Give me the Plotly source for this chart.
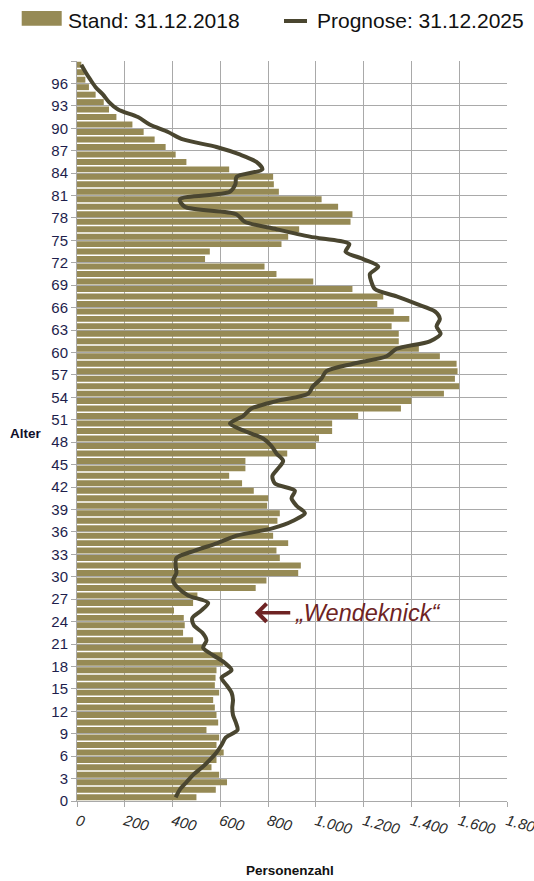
import plotly.graph_objects as go

# ---------------- data ----------------
ages = list(range(0, 99))

stand_2018 = [
    500, 581, 628, 595, 563, 584, 614, 584, 595, 542,   # 0-9
    591, 584, 577, 570, 595, 577, 580, 584, 612, 609,   # 10-19
    535, 486, 444, 451, 447, 406, 486, 504, 748, 793,   # 20-29
    926, 937, 849, 835, 884, 821, 804, 839, 849, 796,   # 30-39
    800, 740, 691, 637, 705, 705, 880, 1000, 1013, 1068,  # 40-49
    1068, 1177, 1356, 1400, 1536, 1600, 1582, 1593, 1589, 1519,  # 50-59
    1431, 1347, 1347, 1317, 1391, 1326, 1257, 1282, 1153, 989,   # 60-69
    835, 785, 536, 556, 856, 884, 930, 1145, 1153, 1093,  # 70-79
    1024, 845, 824, 821, 637, 458, 413, 371, 325, 279,   # 80-89
    232, 165, 134, 112, 78, 50, 35, 32, 18,              # 90-98
]

prognose_2025 = [
    413, 430, 458, 486, 524, 556, 584, 605, 623, 672,   # 0-9
    665, 653, 650, 653, 647, 626, 605, 647, 618, 570,   # 10-19
    528, 542, 525, 489, 483, 521, 549, 465, 423, 402,   # 20-29
    416, 413, 416, 493, 588, 668, 821, 905, 954, 919,   # 30-39
    898, 912, 828, 818, 842, 863, 835, 814, 779, 702,   # 40-49
    640, 695, 730, 835, 968, 988, 1023, 1044, 1156, 1296,  # 50-59
    1338, 1477, 1522, 1505, 1519, 1498, 1421, 1338, 1247, 1232,  # 60-69
    1226, 1261, 1198, 1124, 1140, 975, 835, 702, 667, 451,  # 70-79
    430, 640, 663, 668, 776, 751, 681, 584, 444, 381,   # 80-89
    304, 255, 172, 134, 109, 78, 56, 36, 18,            # 90-98
]

x_tickvals = [0, 200, 400, 600, 800, 1000, 1200, 1400, 1600, 1800]
x_ticktext = ["0", "200", "400", "600", "800", "1.000", "1.200", "1.400", "1.600", "1.800"]
y_tickvals = list(range(0, 100, 3))
y_ticktext = [str(v) if v <= 96 else "" for v in y_tickvals]

legend_bar = "Stand: 31.12.2018"
legend_line = "Prognose: 31.12.2025"
annot_text = "\u201eWendeknick\u201c"
x_title = "Personenzahl"
y_title = "Alter"

# ---------------- style ----------------
BAR_COLOR = "#968A55"
LINE_COLOR = "#4A4630"
GRID = "#A9A9A9"
ANNOT_COLOR = "#6E2323"
FONT = "Liberation Sans, Arial, sans-serif"

W_FIG, H_FIG = 534, 881
L, R, T, B = 77, 27, 61, 80
PW = W_FIG - L - R
PH = H_FIG - T - B


def pxx(p):
    return (p - L) / PW


def pxy(p):
    return (T + PH - p) / PH


y_pos = [a + 0.5 for a in ages]

fig = go.Figure()
fig.add_trace(go.Bar(
    x=stand_2018, y=y_pos, orientation="h", width=0.8,
    marker=dict(color=BAR_COLOR, line=dict(width=0)),
    name=legend_bar, showlegend=False,
))
fig.add_trace(go.Scatter(
    x=prognose_2025, y=y_pos, mode="lines",
    line=dict(color=LINE_COLOR, width=4, shape="spline", smoothing=0.8),
    name=legend_line, showlegend=False,
))

fig.update_layout(
    width=W_FIG, height=H_FIG,
    margin=dict(l=L, r=R, t=T, b=B, pad=0),
    paper_bgcolor="white", plot_bgcolor="white",
    font=dict(family=FONT, color="#222222"),
    showlegend=False,
    xaxis=dict(
        range=[0, 1800], tickmode="array", tickvals=x_tickvals, ticktext=x_ticktext,
        tickangle=15, tickfont=dict(size=15, color="#2a2a2a", style="italic"),
        ticklabeloverflow="allow",
        showgrid=True, gridcolor=GRID, gridwidth=1, zeroline=False,
        showline=True, linecolor=GRID, linewidth=1,
        ticks="outside", ticklen=5, tickcolor=GRID, automargin=False, fixedrange=True,
    ),
    yaxis=dict(
        range=[0, 99], tickmode="array", tickvals=y_tickvals, ticktext=y_ticktext,
        tickfont=dict(size=15, color="#1E1E4C"),
        showgrid=True, gridcolor=GRID, gridwidth=1, zeroline=False,
        showline=True, linecolor=GRID, linewidth=1,
        ticks="outside", ticklen=5, tickcolor=GRID, automargin=False, fixedrange=True,
    ),
)

# manual legend
fig.add_shape(type="rect", xref="paper", yref="paper",
              x0=pxx(21.7), x1=pxx(61.7), y0=pxy(25.7), y1=pxy(11),
              fillcolor=BAR_COLOR, line=dict(width=0))
fig.add_shape(type="line", xref="paper", yref="paper",
              x0=pxx(284), x1=pxx(307), y0=pxy(21), y1=pxy(21),
              line=dict(color=LINE_COLOR, width=4))
fig.add_annotation(text=legend_bar, xref="paper", yref="paper",
                   x=pxx(66), y=pxy(20.5), xanchor="left", yanchor="middle",
                   showarrow=False, font=dict(size=21, color="#111111"))
fig.add_annotation(text=legend_line, xref="paper", yref="paper",
                   x=pxx(314.5), y=pxy(20.5), xanchor="left", yanchor="middle",
                   showarrow=False, font=dict(size=21, color="#111111"))

# axis titles
fig.add_annotation(text="<b>" + y_title + "</b>", xref="paper", yref="paper",
                   x=pxx(25.5), y=pxy(433), xanchor="center", yanchor="middle",
                   showarrow=False, font=dict(size=13.5, color="#10102a"))
fig.add_annotation(text="<b>" + x_title + "</b>", xref="paper", yref="paper",
                   x=pxx(290), y=pxy(871), xanchor="center", yanchor="middle",
                   showarrow=False, font=dict(size=13.5, color="#111111"))

# Wendeknick annotation
fig.add_annotation(text="", x=744, y=25.2, ax=899, ay=25.2,
                   xref="x", yref="y", axref="x", ayref="y",
                   showarrow=True, arrowhead=4, arrowsize=1, arrowwidth=3.5,
                   arrowcolor=ANNOT_COLOR)
fig.add_annotation(text=annot_text, x=903, y=25.2, xref="x", yref="y",
                   xanchor="left", yanchor="middle", showarrow=False,
                   font=dict(size=23.5, color=ANNOT_COLOR, style="italic"))

fig.write_html("out.html", config={"displayModeBar": False},
               post_script="document.body.style.margin='0px';document.body.style.overflow='hidden';")
